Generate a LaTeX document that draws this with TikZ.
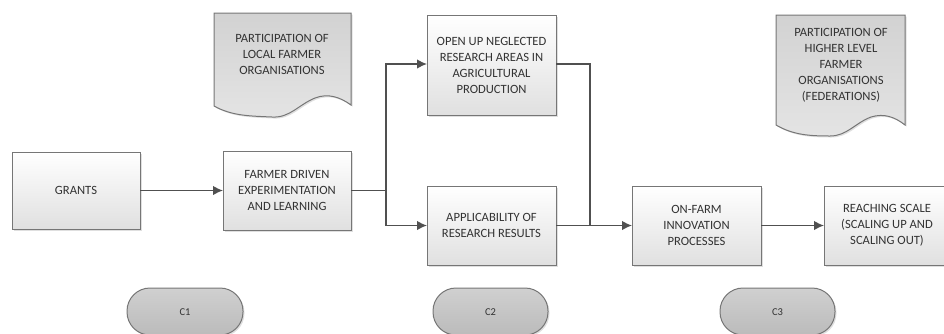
\documentclass[tikz,border=0pt]{standalone}
\usepackage{fontspec}
\setmainfont{Carlito}
\usetikzlibrary{arrows.meta,shadows}

\definecolor{edgegray}{HTML}{767676}
\definecolor{linegray}{HTML}{505050}
\definecolor{txtgray}{HTML}{333333}
\definecolor{boxlow}{HTML}{E0E0E0}
\definecolor{doctop}{HTML}{D2D2D2}
\definecolor{doclow}{HTML}{E4E4E4}
\definecolor{termtop}{HTML}{D0D0D0}
\definecolor{termlow}{HTML}{BBBBBB}

\tikzset{
  x=1pt, y=-1pt,
  every node/.style={font=\fontsize{12.6}{16}\selectfont, text=txtgray, align=center},
  procbox/.style={draw=edgegray, line width=1pt, top color=white, bottom color=boxlow,
    drop shadow={shadow xshift=1.5pt, shadow yshift=-1.5pt, opacity=0.25}},
  docshape/.style={draw=edgegray, line width=1pt, top color=doctop, bottom color=doclow,
    drop shadow={shadow xshift=1.5pt, shadow yshift=-1.5pt, opacity=0.25}},
  termshape/.style={draw=edgegray, line width=1pt, top color=termtop, bottom color=termlow,
    rounded corners=23pt,
    drop shadow={shadow xshift=1.5pt, shadow yshift=-1.5pt, opacity=0.25}},
  termtext/.style={font=\fontsize{10.5}{12}\selectfont},
  flow/.style={draw=linegray, line width=1.4pt},
  flowarrow/.style={flow, -{Latex[length=10pt,width=9.5pt]}},
}

\begin{document}
\begin{tikzpicture}
\useasboundingbox (0,0) rectangle (944,333);

% process boxes
\draw[procbox] (12,152) rectangle (140,229);
\node (grants) at (76,190.5) {GRANTS};

\draw[procbox] (223,151) rectangle (351,230);
\node (farmer) at (287,190.5) {FARMER DRIVEN\\EXPERIMENTATION\\AND LEARNING};

\draw[procbox] (427,15) rectangle (556,115);
\node (openup) at (491.5,65) {OPEN UP NEGLECTED\\RESEARCH AREAS IN\\AGRICULTURAL\\PRODUCTION};

\draw[procbox] (427,186) rectangle (556,265);
\node (applic) at (491.5,225.5) {APPLICABILITY OF\\RESEARCH RESULTS};

\draw[procbox] (632,186) rectangle (761,265);
\node (onfarm) at (696.5,225.5) {ON-FARM\\INNOVATION\\PROCESSES};

\draw[procbox] (824,186) rectangle (950,265);
\node (scale) at (887,225.5) {REACHING SCALE\\(SCALING UP AND\\SCALING OUT)};

% document shapes with wavy bottom edge
\draw[docshape] (214,13) -- (351,13) -- (351,105)
  .. controls (340,97) and (328,93) .. (315,98)
  .. controls (298,105) and (290,118) .. (272,117)
  .. controls (250,116) and (232,116) .. (214,106) -- cycle;
\node (localfo) at (282,54) {PARTICIPATION OF\\LOCAL FARMER\\ORGANISATIONS};

\draw[docshape] (776,15) -- (905,15) -- (905,125)
  .. controls (895,117) and (884,113) .. (871,117)
  .. controls (855,123) and (847,136) .. (830,136)
  .. controls (810,136) and (793,135) .. (776,125) -- cycle;
\node (higherfo) at (841,65) {PARTICIPATION OF\\HIGHER LEVEL\\FARMER\\ORGANISATIONS\\(FEDERATIONS)};

% terminators
\draw[termshape] (127,288) rectangle (243,335);
\node[termtext] (c1) at (185,312) {C1};
\draw[termshape] (433,288) rectangle (548,335);
\node[termtext] (c2) at (490.5,312) {C2};
\draw[termshape] (720,288) rectangle (835,335);
\node[termtext] (c3) at (777.5,312) {C3};

% box edge anchors for connectors
\coordinate (grantsE) at (140,190.5);
\coordinate (farmerW) at (223,190.5);
\coordinate (farmerE) at (351,190.5);
\coordinate (openW) at (427,64);
\coordinate (openE) at (556,64);
\coordinate (applicW) at (427,225.5);
\coordinate (applicE) at (556,225.5);
\coordinate (onfarmW) at (632,225.5);
\coordinate (onfarmE) at (761,225.5);
\coordinate (scaleW) at (824,225.5);
\coordinate (split) at (386,190.5);
\coordinate (merge) at (590,225.5);

% connectors
\draw[flowarrow] (grantsE) -- (farmerW);
\draw[flow] (farmerE) -- (split);
\draw[flowarrow] (split) |- (openW);
\draw[flowarrow] (split) |- (applicW);
\draw[flow] (openE) -| (merge);
\draw[flowarrow] (applicE) -- (onfarmW);
\draw[flowarrow] (onfarmE) -- (scaleW);
\end{tikzpicture}
\end{document}
